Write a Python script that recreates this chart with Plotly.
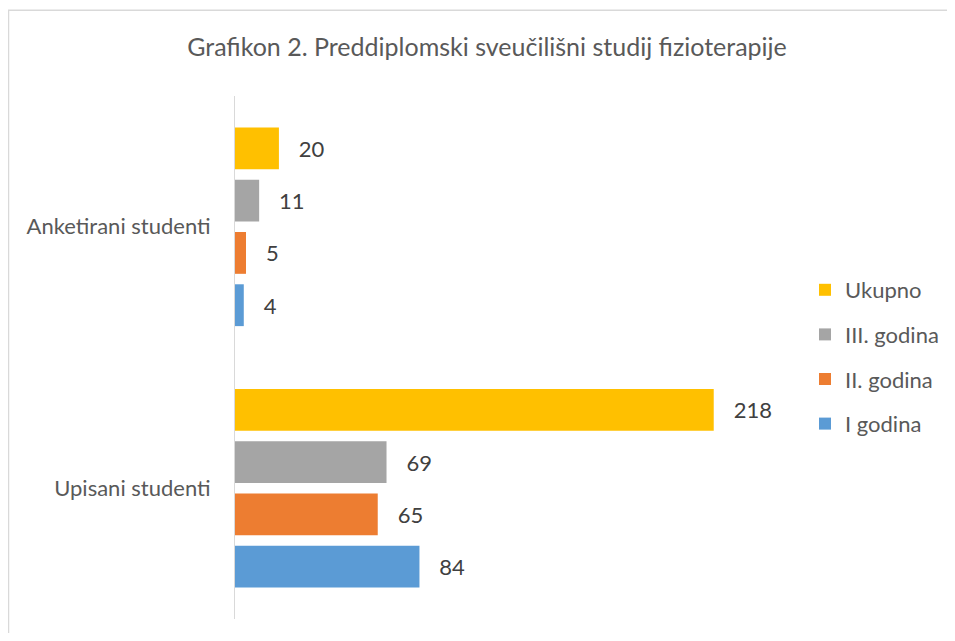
import plotly.graph_objects as go

categories = ["Upisani studenti", "Anketirani studenti"]
series_names = ["I godina", "II. godina", "III. godina", "Ukupno"]
values_i = [84, 4]
values_ii = [65, 5]
values_iii = [69, 11]
values_total = [218, 20]
colors = ["#5B9BD5", "#ED7D31", "#A5A5A5", "#FFC000"]

all_values = [values_i, values_ii, values_iii, values_total]

FONT = "Lato"
W, H = 939, 625
L, T = 227, 87.5
PW, PH = 549, 524
fig = go.Figure()
for i, (name, vals, col) in enumerate(zip(series_names, all_values, colors)):
    fig.add_trace(go.Bar(
        y=categories, x=vals, name=name, orientation="h",
        marker=dict(color=col, line=dict(width=0)),
        text=vals, texttemplate="   %{x}", textposition="outside",
        textfont=dict(family=FONT, size=22, color="#404040"),
        cliponaxis=False, legendgroup=name, legendrank=1000 - i,
    ))

fig.update_layout(
    width=W, height=H,
    margin=dict(l=L, r=W - L - PW, t=T, b=H - T - PH, pad=0, autoexpand=False),
    paper_bgcolor="white", plot_bgcolor="white",
    barmode="group", bargap=0.2, bargroupgap=0.2,
    font=dict(family=FONT, size=22, color="#595959"),
    title=dict(text="Grafikon 2. Preddiplomski sveučilišni studij fizioterapije",
               x=479 / W, xanchor="center", y=1 - 39 / H, yanchor="middle",
               font=dict(family=FONT, size=25, color="#595959")),
    xaxis=dict(range=[0, 250], visible=False),
    yaxis=dict(type="category", categoryorder="array", categoryarray=categories,
               showline=True, linecolor="#D9D9D9", linewidth=1,
               ticks="", ticklabelstandoff=19, showgrid=False,
               tickfont=dict(family=FONT, size=22, color="#595959")),
    legend=dict(traceorder="grouped", xref="container", x=797 / W, xanchor="left",
                yref="container", y=1 - 349 / H, yanchor="middle",
                font=dict(family=FONT, size=22, color="#595959"),
                tracegroupgap=13, itemwidth=30, bgcolor="rgba(0,0,0,0)"),
    showlegend=True,
    shapes=[dict(type="rect", xref="paper", yref="paper",
                 x0=(0.5 - L) / PW, x1=2, y0=-1, y1=(T + PH - 1.5) / PH,
                 line=dict(color="#D9D9D9", width=1.5), layer="below")],
)

fig.write_html("out.html")
